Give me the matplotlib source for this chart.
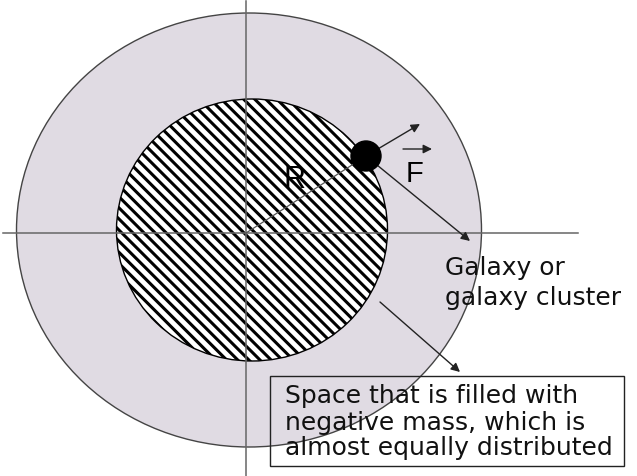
import matplotlib.pyplot as plt
from matplotlib.patches import Ellipse, Rectangle, Circle

W, H = 637, 477

# geometry (pixel units, y downward)
outer = dict(center=(249, 231), width=465, height=434)
inner = dict(center=(252, 231), width=271, height=262)
origin = (246, 234)
galaxy = (366, 157)
galaxy_r = 15

arrows = [
    (galaxy, (420, 125)),      # outward arrow
    (galaxy, (470, 242)),      # pointer to "Galaxy or ..."
    ((403, 150), (432, 150)),  # vector sign over F
    ((380, 303), (460, 373)),  # pointer to the box
]

galaxy_lines = ["Galaxy or", "galaxy cluster"]
galaxy_base = [275, 305]
box_lines = ["Space that is filled with",
             "negative mass, which is",
             "almost equally distributed"]
box_base = [403, 430, 455]

plt.rcParams['hatch.linewidth'] = 2.2
plt.rcParams['font.family'] = ['DejaVu Sans']

fig = plt.figure(figsize=(W / 100, H / 100), dpi=100)
ax = fig.add_axes([0, 0, 1, 1])
ax.set_xlim(0, W)
ax.set_ylim(H, 0)
ax.axis('off')

ax.add_patch(Ellipse(outer['center'], outer['width'], outer['height'],
                     facecolor='#e0dbe3', edgecolor='#444444', lw=1.0, zorder=1))
ax.add_patch(Ellipse(inner['center'], inner['width'], inner['height'],
                     facecolor='white', edgecolor='black', hatch='\\\\\\',
                     lw=1.0, zorder=2))

# axes cross
ax.plot([origin[0], origin[0]], [2, H], color='#666666', lw=1.1, zorder=3)
ax.plot([3, 578], [origin[1], origin[1]], color='#666666', lw=1.1, zorder=3)

# radius line
ax.plot([origin[0], galaxy[0]], [origin[1], galaxy[1]], color='#555555', lw=0.9, zorder=3)

for start, end in arrows:
    ax.annotate('', xy=end, xytext=start,
                arrowprops=dict(arrowstyle='-|>', color='#222222', lw=1.0,
                                mutation_scale=13, shrinkA=0, shrinkB=0),
                zorder=4)

ax.add_patch(Circle(galaxy, galaxy_r, facecolor='black', edgecolor='black', zorder=5))

ax.text(294, 180, 'R', fontsize=22, ha='center', va='center', zorder=6,
        family=['Liberation Sans'])
ax.text(414, 174, 'F', fontsize=21, ha='center', va='center', zorder=6,
        family=['Liberation Sans'])

for s, y in zip(galaxy_lines, galaxy_base):
    ax.text(445, y, s, fontsize=18, ha='left', va='baseline', color='#111111', zorder=6)

ax.add_patch(Rectangle((270, 377), 354, 90, facecolor='none',
                       edgecolor='#222222', lw=1.0, zorder=6))
for s, y in zip(box_lines, box_base):
    ax.text(285, y, s, fontsize=18, ha='left', va='baseline', color='#111111', zorder=6)

fig.savefig('out.png', dpi=100)
